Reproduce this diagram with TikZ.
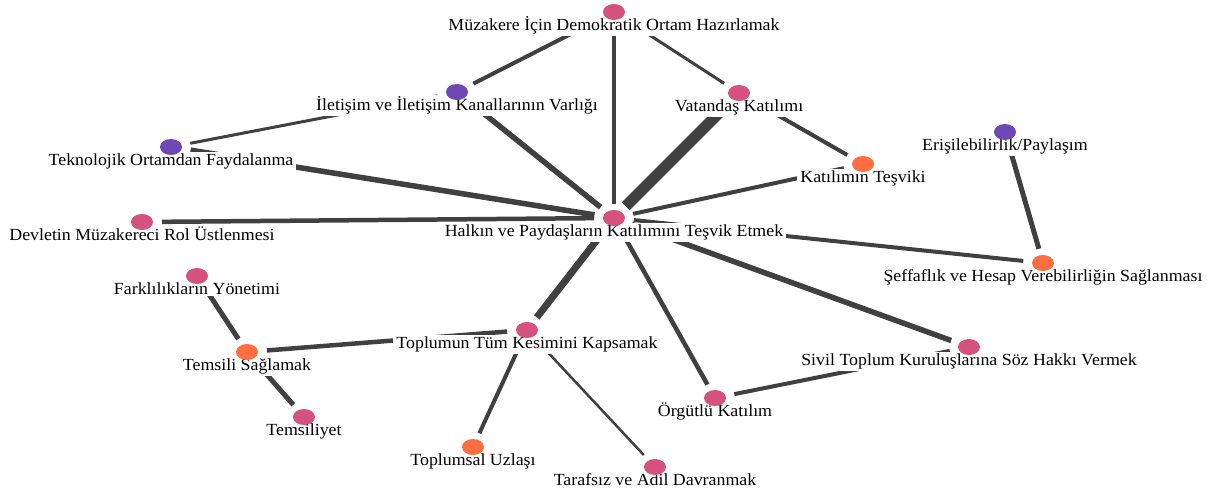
\documentclass[tikz,border=0pt]{standalone}
\usepackage{fontspec}
\setmainfont{Liberation Serif}[FakeStretch=1.05]
\usetikzlibrary{shapes.geometric}
\pgfdeclarelayer{edges}
\pgfdeclarelayer{labels}
\pgfsetlayers{edges,labels,main}
\definecolor{pinkc}{HTML}{D5527F}
\definecolor{purplec}{HTML}{6F48B6}
\definecolor{orangec}{HTML}{FF6E40}
\definecolor{edgec}{HTML}{404040}
\begin{document}
\begin{tikzpicture}[x=1pt,y=-1pt,
  dotn/.style={ellipse, minimum width=22pt, minimum height=16pt, inner sep=0pt,
    outer xsep=9pt, outer ysep=6.5pt, fill=#1, draw=none},
  lbl/.style={fill=white, inner xsep=3pt, inner ysep=1.5pt, anchor=base,
    font=\fontsize{17pt}{20pt}\selectfont, text=black},
  conn/.style={draw=edgec, line width=#1},
]
\useasboundingbox (0,0) rectangle (1207,490);

% dots
\node[dotn=pinkc]   (muz)   at (614,12)  {};
\node[dotn=purplec] (ilet)  at (457,92)  {};
\node[dotn=pinkc]   (vat)   at (739,93)  {};
\node[dotn=purplec] (tek)   at (171,147) {};
\node[dotn=purplec] (eris)  at (1005,132) {};
\node[dotn=orangec] (kat)   at (863,164) {};
\node[dotn=pinkc]   (halk)  at (614,218) {};
\node[dotn=pinkc]   (dev)   at (142,222) {};
\node[dotn=orangec] (sef)   at (1043,263) {};
\node[dotn=pinkc]   (fark)  at (197,276) {};
\node[dotn=pinkc]   (top)   at (527,330) {};
\node[dotn=pinkc]   (siv)   at (969,347) {};
\node[dotn=orangec] (tems)  at (247,352) {};
\node[dotn=pinkc]   (org)   at (715,398) {};
\node[dotn=pinkc]   (temy)  at (304,417) {};
\node[dotn=orangec] (uzl)   at (473,447) {};
\node[dotn=pinkc]   (taraf) at (655,467) {};

% labels
\begin{pgfonlayer}{labels}
\node[lbl] (muz-l)   at ([yshift=-18.5pt]muz.center)   {Müzakere İçin Demokratik Ortam Hazırlamak};
\node[lbl] (ilet-l)  at ([yshift=-18.5pt]ilet.center)  {İletişim ve İletişim Kanallarının Varlığı};
\node[lbl] (vat-l)   at ([yshift=-18.5pt]vat.center)   {Vatandaş Katılımı};
\node[lbl] (tek-l)   at ([yshift=-18.5pt]tek.center)   {Teknolojik Ortamdan Faydalanma};
\node[lbl] (eris-l)  at ([yshift=-18.5pt]eris.center)  {Erişilebilirlik/Paylaşım};
\node[lbl] (kat-l)   at ([yshift=-18.5pt]kat.center)   {Katılımın Teşviki};
\node[lbl] (halk-l)  at ([yshift=-18.5pt]halk.center)  {Halkın ve Paydaşların Katılımını Teşvik Etmek};
\node[lbl] (dev-l)   at ([yshift=-18.5pt]dev.center)   {Devletin Müzakereci Rol Üstlenmesi};
\node[lbl] (sef-l)   at ([yshift=-18.5pt]sef.center)   {Şeffaflık ve Hesap Verebilirliğin Sağlanması};
\node[lbl] (fark-l)  at ([yshift=-18.5pt]fark.center)  {Farklılıkların Yönetimi};
\node[lbl] (top-l)   at ([yshift=-18.5pt]top.center)   {Toplumun Tüm Kesimini Kapsamak};
\node[lbl] (siv-l)   at ([yshift=-18.5pt]siv.center)   {Sivil Toplum Kuruluşlarına Söz Hakkı Vermek};
\node[lbl] (tems-l)  at ([yshift=-18.5pt]tems.center)  {Temsili Sağlamak};
\node[lbl] (org-l)   at ([yshift=-18.5pt]org.center)   {Örgütlü Katılım};
\node[lbl] (temy-l)  at ([yshift=-18.5pt]temy.center)  {Temsiliyet};
\node[lbl] (uzl-l)   at ([yshift=-18.5pt]uzl.center)   {Toplumsal Uzlaşı};
\node[lbl] (taraf-l) at ([yshift=-18.5pt]taraf.center) {Tarafsız ve Adil Davranmak};
\end{pgfonlayer}

% edges
\begin{pgfonlayer}{edges}
\draw[conn=4pt]   (muz) -- (ilet);
\draw[conn=4.5pt] (muz) -- (halk);
\draw[conn=3pt]   (muz) -- (vat);
\draw[conn=3pt]   (ilet) -- (tek);
\draw[conn=5.5pt] (ilet) -- (halk);
\draw[conn=5.5pt] (tek) -- (halk);
\draw[conn=4.5pt] (dev) -- (halk);
\draw[conn=11pt]  (vat) -- (halk);
\draw[conn=4pt]   (vat) -- (kat);
\draw[conn=4pt]   (kat) -- (halk);
\draw[conn=5pt]   (eris) -- (sef);
\draw[conn=4pt]   (halk) -- (sef);
\draw[conn=5.5pt] (halk) -- (siv);
\draw[conn=4.5pt] (halk) -- (org);
\draw[conn=7pt]   (halk) -- (top);
\draw[conn=4pt]   (siv) -- (org);
\draw[conn=4.5pt] (top) -- (tems);
\draw[conn=4pt]   (top) -- (uzl);
\draw[conn=2.5pt] (top) -- (taraf);
\draw[conn=5pt]   (fark) -- (tems);
\draw[conn=5pt]   (tems) -- (temy);
\end{pgfonlayer}
\end{tikzpicture}
\end{document}
